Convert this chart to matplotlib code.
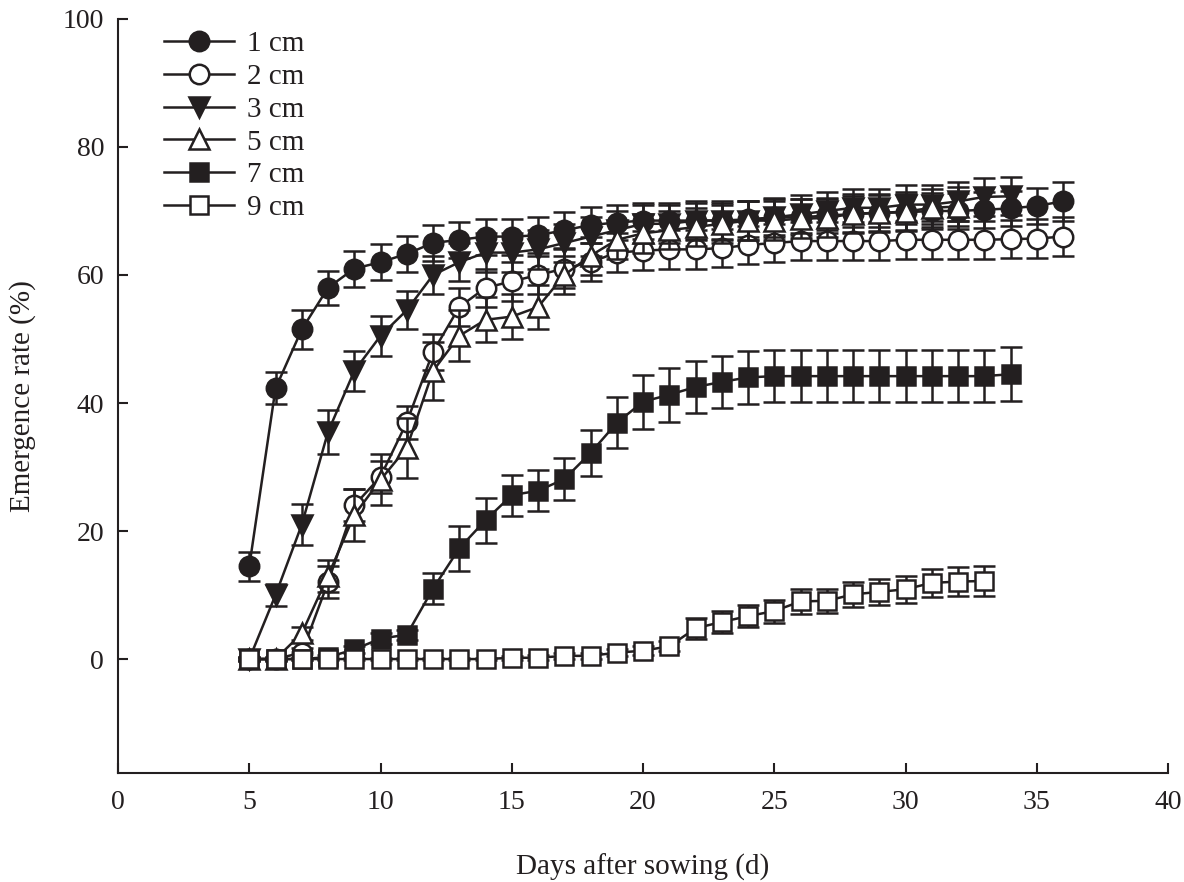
import matplotlib

matplotlib.use("Agg")
import matplotlib.pyplot as plt

# Emergence rate (%) by sowing depth
days_1 = list(range(5, 37))
rate_1 = [14.5, 42.3, 51.5, 58.0, 61.0, 62.0, 63.3, 65.0, 65.5, 66.0, 66.0, 66.2,
          67.0, 67.8, 68.2, 68.5, 68.5, 68.5, 68.5, 68.7, 69.0, 69.0, 69.3, 69.5,
          69.7, 69.8, 70.0, 70.0, 70.2, 70.4, 70.8, 71.5]
err_1 = [2.3, 2.5, 3.0, 2.7, 2.8, 2.8, 2.8, 2.8, 2.8, 2.8, 2.8, 2.8,
         2.8, 2.8, 2.8, 2.8, 2.8, 2.8, 2.8, 2.8, 2.8, 2.8, 2.8, 2.8,
         2.8, 2.8, 2.8, 2.8, 2.8, 2.8, 2.8, 3.0]

days_2 = list(range(5, 37))
rate_2 = [0.0, 0.0, 1.0, 12.0, 24.0, 28.5, 37.0, 48.0, 55.0, 58.0, 59.0, 60.0,
          61.0, 62.0, 63.5, 63.8, 64.0, 64.0, 64.2, 64.7, 65.0, 65.3, 65.3, 65.3,
          65.3, 65.5, 65.5, 65.5, 65.5, 65.6, 65.7, 66.0]
err_2 = [0.3, 0.3, 0.8, 2.5, 2.5, 2.5, 2.6, 2.8, 3.0, 3.0, 3.0, 3.0,
         3.0, 3.0, 3.0, 3.0, 3.0, 3.0, 3.0, 3.0, 3.0, 3.0, 3.0, 3.0,
         3.0, 3.0, 3.0, 3.0, 3.0, 3.0, 3.0, 3.0]

days_3 = list(range(5, 35))
rate_3 = [0.0, 10.0, 21.0, 35.5, 45.0, 50.5, 54.5, 60.0, 62.0, 63.5, 63.5, 64.0,
          65.0, 66.0, 67.0, 68.0, 68.0, 68.5, 68.5, 68.5, 69.0, 69.5, 70.0, 70.5,
          70.5, 71.0, 71.0, 71.5, 72.2, 72.3]
err_3 = [0.3, 1.7, 3.2, 3.4, 3.1, 3.1, 3.0, 3.0, 3.0, 3.0, 3.0, 3.0,
         3.0, 3.0, 3.0, 3.0, 3.0, 3.0, 3.0, 3.0, 3.0, 3.0, 3.0, 3.0,
         3.0, 3.0, 3.0, 3.0, 3.0, 3.0]

days_5 = list(range(5, 33))
rate_5 = [0.0, 0.0, 4.0, 13.0, 22.5, 28.0, 33.0, 45.0, 50.5, 53.0, 53.5, 55.0,
          60.0, 63.0, 65.5, 66.5, 67.0, 67.5, 68.0, 68.5, 68.5, 68.8, 68.9, 69.6,
          69.7, 69.9, 70.5, 70.7]
err_5 = [0.3, 0.3, 1.0, 2.5, 4.0, 4.0, 4.7, 4.5, 4.0, 3.5, 3.5, 3.5,
         3.0, 3.0, 3.0, 3.0, 3.0, 3.0, 3.0, 3.0, 3.0, 3.0, 3.0, 3.0,
         3.0, 3.0, 3.0, 3.0]

days_7 = list(range(5, 35))
rate_7 = [0.0, 0.0, 0.0, 0.3, 1.5, 3.2, 3.8, 11.0, 17.3, 21.7, 25.6, 26.3,
          28.1, 32.2, 36.9, 40.2, 41.3, 42.5, 43.3, 44.0, 44.2, 44.2, 44.2, 44.2,
          44.2, 44.2, 44.2, 44.2, 44.2, 44.5]
err_7 = [0.2, 0.2, 0.2, 0.3, 0.5, 0.8, 0.8, 2.4, 3.5, 3.5, 3.2, 3.2,
         3.3, 3.6, 4.0, 4.2, 4.2, 4.1, 4.1, 4.1, 4.1, 4.1, 4.1, 4.1,
         4.1, 4.1, 4.1, 4.1, 4.1, 4.2]

days_9 = list(range(5, 34))
rate_9 = [0.0, 0.0, 0.0, 0.0, 0.0, 0.0, 0.0, 0.0, 0.0, 0.0, 0.2, 0.2,
          0.5, 0.5, 1.0, 1.3, 2.0, 4.8, 5.8, 6.7, 7.5, 9.0, 9.1, 10.1,
          10.5, 10.9, 11.9, 12.1, 12.2]
err_9 = [0.1, 0.1, 0.1, 0.1, 0.1, 0.1, 0.1, 0.1, 0.1, 0.1, 0.3, 0.4,
         0.5, 0.5, 0.6, 0.7, 0.8, 1.6, 1.7, 1.7, 1.8, 1.9, 1.9, 2.0,
         2.0, 2.1, 2.2, 2.3, 2.3]

labels = ["1 cm", "2 cm", "3 cm", "5 cm", "7 cm", "9 cm"]

INK = "#231f20"

plt.rcParams.update({
    "font.family": ["Liberation Serif", "DejaVu Serif"],
    "font.size": 20,
    "axes.linewidth": 1.5,
    "xtick.major.width": 1.5,
    "ytick.major.width": 1.5,
    "xtick.major.size": 7,
    "ytick.major.size": 7,
    "xtick.direction": "in",
    "ytick.direction": "in",
    "text.color": INK,
    "axes.edgecolor": INK,
    "xtick.color": INK,
    "ytick.color": INK,
    "axes.labelcolor": INK,
})

fig = plt.figure(figsize=(11.84, 8.82), dpi=100)
ax = fig.add_axes([0.0997, 0.1236, 0.8868, 0.8549])

series = [
    (days_1, rate_1, err_1, "o", INK, 14),
    (days_2, rate_2, err_2, "o", "white", 14),
    (days_3, rate_3, err_3, "v", INK, 14),
    (days_5, rate_5, err_5, "^", "white", 14),
    (days_7, rate_7, err_7, "s", INK, 13),
    (days_9, rate_9, err_9, "s", "white", 13),
]

for i, (d, r, e, m, fc, ms) in enumerate(series):
    ax.errorbar(d, r, yerr=e, marker=m, markersize=ms, markerfacecolor=fc,
                markeredgecolor=INK, markeredgewidth=1.8, color=INK,
                linewidth=1.8, elinewidth=1.8, capsize=8, capthick=1.8,
                label=labels[i], zorder=3 + i)

ax.set_xlim(0, 40)
ax.set_ylim(-17.8, 100)
ax.set_xticks(range(0, 41, 5))
ax.set_yticks(range(0, 101, 20))
ax.spines["top"].set_visible(False)
ax.spines["right"].set_visible(False)
ax.tick_params(axis="x", labelsize=20, pad=12)
ax.tick_params(axis="y", labelsize=20, pad=10)

ax.set_xlabel("Days after sowing (d)", fontsize=21, labelpad=28)
ax.set_ylabel("Emergence rate (%)", fontsize=21, labelpad=19)

handles, labs = ax.get_legend_handles_labels()
handles = [h[0] for h in handles]
ax.legend(handles, labs, loc="upper left", bbox_to_anchor=(0.033, 1.0),
          frameon=False, fontsize=21, handlelength=2.4, handletextpad=0.45,
          labelspacing=0.22, borderaxespad=0.0)

fig.savefig("out.png", dpi=100)
